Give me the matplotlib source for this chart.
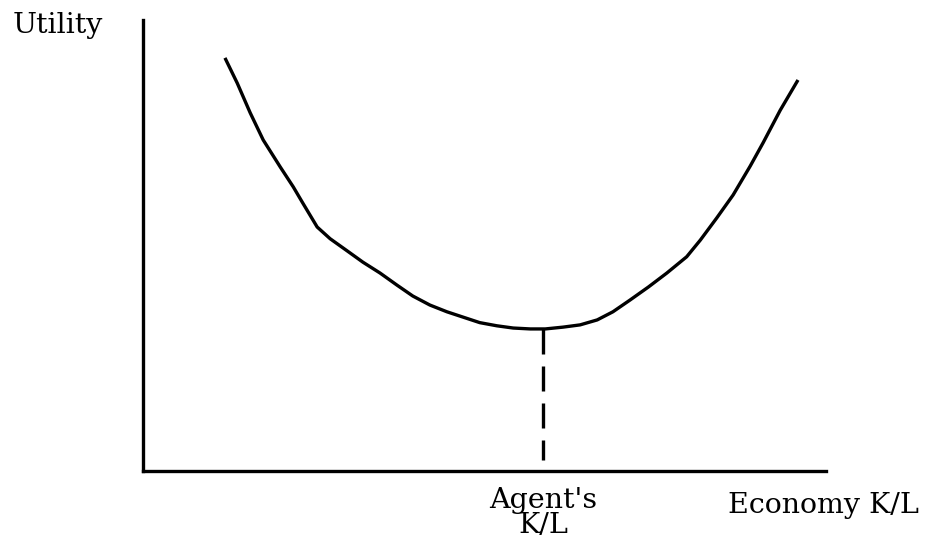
import matplotlib
matplotlib.use("Agg")
import matplotlib.pyplot as plt
from matplotlib.transforms import blended_transform_factory

# utility curve (x = economy K/L, y = utility, both 0..10)
curve_x = [1.20, 1.38, 1.57, 1.76, 2.01, 2.20, 2.34, 2.55, 2.74, 2.99,
           3.22, 3.47, 3.72, 3.95, 4.20, 4.45, 4.69, 4.93, 5.18, 5.42,
           5.67, 5.89, 6.15, 6.40, 6.65, 6.88, 7.13, 7.40, 7.67, 7.96,
           8.16, 8.40, 8.64, 8.89, 9.08, 9.33, 9.59]
curve_y = [9.16, 8.60, 7.94, 7.34, 6.74, 6.30, 5.94, 5.41, 5.15, 4.88,
           4.63, 4.39, 4.12, 3.88, 3.68, 3.53, 3.41, 3.29, 3.22, 3.17,
           3.15, 3.15, 3.19, 3.24, 3.35, 3.53, 3.79, 4.08, 4.39, 4.75,
           5.12, 5.61, 6.12, 6.76, 7.28, 8.00, 8.67]

agent_x = 5.86
agent_top = 3.15
agent_bottom = 0.24

ylabel = "Utility"
xlabel = "Economy K/L"
agent_label = ["Agent's", "K/L"]

fig = plt.figure(figsize=(9.3, 5.5), dpi=100)
ax = fig.add_axes([143 / 930, 79 / 550, 683 / 930, 451 / 550])
ax.set_xlim(0, 10)
ax.set_ylim(0, 10)

ax.plot(curve_x, curve_y, color="black", lw=2.4, solid_capstyle="butt",
        solid_joinstyle="round")
ax.plot([agent_x, agent_x], [agent_top, agent_bottom], color="black", lw=2.4,
        dashes=(7.5, 3.6), dash_capstyle="butt")

for s in ["top", "right"]:
    ax.spines[s].set_visible(False)
for s in ["left", "bottom"]:
    ax.spines[s].set_linewidth(2.4)
ax.set_xticks([])
ax.set_yticks([])

font = dict(family="DejaVu Serif", fontsize=20.5, color="black")
fig.text(13 / 930, 1 - 33 / 550, ylabel, ha="left", va="baseline", **font)
fig.text(728 / 930, 1 - 513 / 550, xlabel, ha="left", va="baseline", **font)

trans = blended_transform_factory(ax.transData, fig.transFigure)
ax.text(agent_x, 1 - 508 / 550, agent_label[0], ha="center", va="baseline",
        transform=trans, clip_on=False, **font)
ax.text(agent_x, 1 - 533 / 550, agent_label[1], ha="center", va="baseline",
        transform=trans, clip_on=False, **font)

fig.savefig("out.png", dpi=100)
plt.close(fig)
